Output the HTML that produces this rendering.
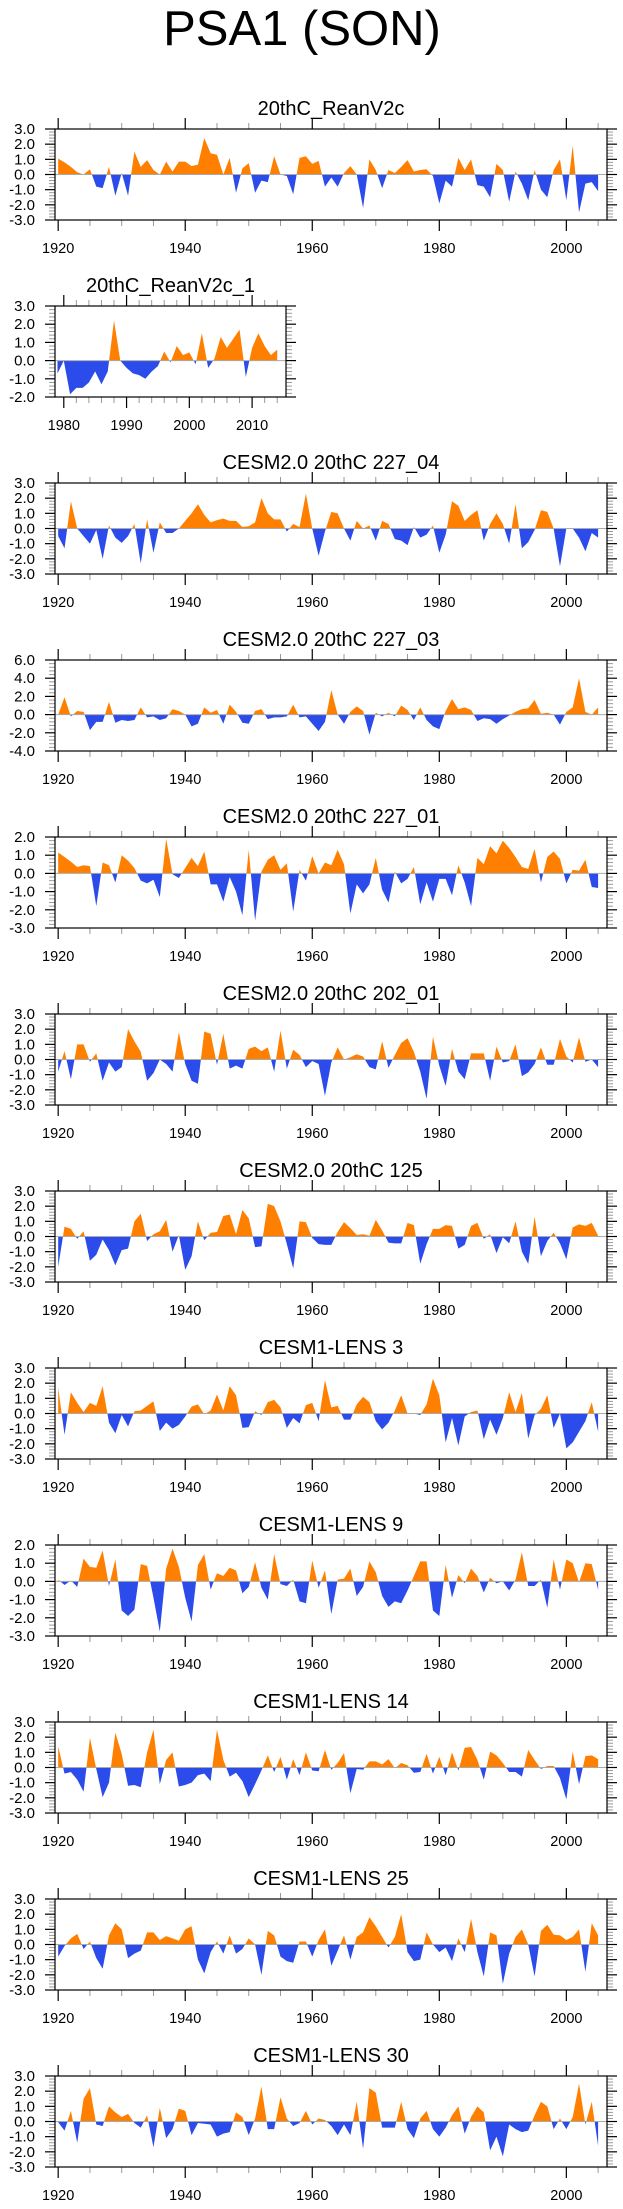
<!DOCTYPE html>
<html><head><meta charset="utf-8"><style>
html,body{margin:0;padding:0;background:#fff;}
svg{display:block;font-family:"Liberation Sans",sans-serif;}
</style></head><body>
<svg id="chart" width="623" height="2209" viewBox="0 0 623 2209">
<text x="302" y="45" font-size="49" text-anchor="middle">PSA1 (SON)</text>
</svg>
<script>
const titles=["20thC_ReanV2c","20thC_ReanV2c_1","CESM2.0 20thC 227_04","CESM2.0 20thC 227_03","CESM2.0 20thC 227_01","CESM2.0 20thC 202_01","CESM2.0 20thC 125","CESM1-LENS 3","CESM1-LENS 9","CESM1-LENS 14","CESM1-LENS 25","CESM1-LENS 30"];
const startYears=[1920,1979,1920,1920,1920,1920,1920,1920,1920,1920,1920,1920];
const yMin=[-3,-2,-3,-4,-3,-3,-3,-3,-3,-3,-3,-3];
const yMax=[3,3,3,6,2,3,3,3,2,3,3,3];
const yStep=[1,1,1,2,1,1,1,1,1,1,1,1];
const s1=[1.05,0.8,0.5,0.15,0.0,0.35,-0.8,-0.9,0.5,-1.4,
0.1,-1.4,1.5,0.5,0.95,0.3,0.0,0.85,0.2,0.85,
0.85,0.55,0.65,2.4,1.4,1.3,0.0,1.1,-1.2,0.4,
0.75,-1.2,-0.4,-0.5,1.2,0.0,-0.1,-1.3,1.1,1.2,
0.7,0.9,-0.8,-0.2,-0.8,0.1,0.55,0.0,-2.2,1.0,
0.3,-0.9,0.3,0.1,0.5,0.95,0.2,0.3,0.35,-0.1,
-1.9,-0.4,-0.8,1.1,0.3,1.0,-0.7,-0.8,-1.5,0.7,
0.3,-1.8,0.2,-0.6,-1.7,0.3,-1.0,-1.5,0.3,1.0,
-1.7,1.9,-2.5,-0.6,-0.5,-1.1];
const s2=[-0.7,0.0,-1.85,-1.5,-1.5,-1.2,-0.6,-1.3,-0.6,2.2,
0.0,-0.4,-0.7,-0.8,-1.0,-0.6,-0.3,0.5,-0.1,0.8,
0.3,0.45,-0.2,1.5,-0.4,0.1,1.3,0.7,1.2,1.7,
-0.9,0.7,1.5,0.8,0.3,0.6];
const s3=[-0.5,-1.3,1.8,0.0,-0.5,-1.0,-0.1,-2.0,0.2,-0.6,
-0.95,-0.5,0.3,-2.3,0.6,-1.6,0.4,-0.3,-0.3,0.0,
0.5,1.0,1.6,0.9,0.4,0.55,0.65,0.5,0.5,0.1,
0.15,0.4,2.0,1.0,0.6,0.6,-0.2,0.3,0.1,2.3,
0.0,-1.8,-0.2,1.1,1.0,0.0,-0.8,0.5,0.0,0.2,
-0.8,0.5,0.3,-0.7,-0.8,-1.1,0.1,-0.6,-0.4,0.2,
-1.6,-0.4,1.8,1.5,0.5,0.9,1.2,-0.8,0.3,1.0,
0.3,-1.0,1.6,-1.3,-0.9,-0.1,1.2,1.1,0.0,-2.5,
0.0,0.0,-0.6,-1.5,-0.3,-0.6];
const s4=[0.0,1.9,-0.2,0.4,0.3,-1.7,-0.8,-0.8,1.4,-0.9,
-0.6,-0.7,-0.6,0.8,-0.3,-0.2,-0.6,-0.4,0.6,0.4,
0.0,-1.3,-1.0,0.8,0.2,0.5,-1.0,1.1,0.3,-0.9,
-1.0,0.4,0.6,-0.5,-0.3,-0.3,-0.2,1.1,-0.3,-0.2,
-1.0,-1.8,-0.8,2.7,0.0,-1.0,0.3,0.9,0.4,-2.2,
0.2,-0.2,0.2,-0.2,1.0,0.5,-0.6,0.8,-0.6,-1.3,
-1.6,0.4,1.7,0.6,0.8,0.5,-0.7,-0.4,-0.5,-1.0,
-0.5,-0.1,0.3,0.6,0.7,1.6,0.1,0.2,0.0,-1.1,
0.3,0.8,4.0,0.3,0.0,0.8];
const s5=[1.15,0.9,0.65,0.35,0.45,0.4,-1.8,0.6,0.45,-0.5,
1.0,0.7,0.3,-0.4,-0.55,-0.35,-1.3,1.9,-0.05,-0.25,
0.3,0.85,0.4,1.2,-0.6,-0.6,-1.55,-0.2,-1.0,-2.3,
1.3,-2.6,0.1,0.75,1.0,0.2,0.55,-2.1,0.2,-0.4,
0.95,0.0,0.6,0.45,1.3,0.5,-2.2,-0.6,-1.1,-0.6,
0.85,-0.9,-1.6,0.1,-0.55,-0.3,0.35,-1.7,-0.5,-1.55,
-0.3,-0.3,-1.2,0.45,-0.5,-1.8,0.85,0.5,1.5,1.1,
1.8,1.4,0.9,0.35,0.25,1.35,-0.5,0.9,1.2,0.8,
-0.55,0.2,0.15,0.75,-0.75,-0.8];
const s6=[-0.8,0.55,-1.3,1.0,1.0,-0.15,0.4,-1.4,-0.2,-0.8,
-0.5,2.0,1.2,0.5,-1.4,-0.9,0.0,-0.3,-0.8,1.8,
-0.3,-1.4,-1.6,1.85,1.7,-0.35,1.7,-0.6,-0.4,-0.6,
0.7,0.85,0.55,0.8,-0.8,1.9,-0.6,0.65,0.3,-0.5,
-0.1,-0.3,-2.4,-0.2,0.8,0.0,0.15,0.35,0.2,-0.5,
-0.65,1.2,-0.55,0.3,1.1,1.4,0.5,-0.8,-2.6,1.5,
-0.4,-1.75,0.7,-0.8,-1.3,0.4,0.4,0.4,-1.4,0.85,
-0.2,-0.1,1.0,-1.1,-0.85,-0.3,0.8,-0.35,-0.35,1.35,
0.2,-0.2,1.45,-0.15,0.0,-0.5];
const s7=[-2.0,0.65,0.5,-0.15,0.35,-1.6,-1.2,-0.2,-0.9,-1.9,
-0.9,-0.8,1.0,1.5,-0.3,0.15,0.35,1.1,-1.0,0.1,
-2.2,-1.3,1.0,-0.25,0.25,0.3,1.35,1.45,0.15,1.75,
1.2,-0.7,-0.65,2.15,2.0,1.0,-0.5,-2.1,1.0,0.95,
-0.1,-0.5,-0.55,-0.55,0.3,0.95,0.55,0.1,0.15,0.05,
1.1,0.4,-0.4,-0.45,-0.45,0.9,0.75,-1.8,-0.5,0.5,
0.5,0.75,0.7,-0.8,-0.55,0.7,0.9,-0.15,0.15,-1.1,
-0.05,-0.45,1.0,-1.0,-1.8,1.3,-1.3,-0.3,0.25,-0.45,
-1.5,0.6,0.8,0.7,0.9,0.05];
const s8=[1.7,-1.4,1.4,0.7,0.1,0.7,0.5,1.8,-0.6,-1.3,
-0.1,-0.85,0.15,0.2,0.5,0.8,-1.15,-0.6,-1.0,-0.75,
-0.2,0.45,0.6,-0.05,0.2,1.25,0.2,1.8,1.2,-0.95,
-0.9,0.15,-0.1,0.75,0.9,0.4,-0.95,-0.3,-0.65,0.55,
0.7,-0.5,2.2,0.4,0.5,-0.4,-0.4,0.6,1.1,0.75,
-0.5,-1.05,-0.6,0.2,1.2,0.0,0.0,-0.1,0.6,2.3,
1.2,-1.9,-0.3,-2.1,-0.2,0.1,0.2,-1.7,-0.4,-1.4,
-0.3,1.4,0.1,1.35,-1.65,-0.1,0.3,1.2,-0.95,0.0,
-2.3,-1.9,-1.2,-0.5,0.75,-1.2];
const s9=[0.1,-0.2,0.05,-0.3,1.25,0.8,0.75,1.7,-0.25,1.2,
-1.6,-1.9,-1.55,0.95,0.85,-0.9,-2.75,0.7,1.8,0.8,
-0.9,-2.2,0.9,1.5,-0.45,0.45,0.3,0.75,0.6,-0.65,
-0.3,1.05,-0.35,-1.0,1.5,-0.15,-0.25,0.1,-1.1,-1.2,
1.15,-0.35,0.6,-1.8,0.1,0.15,0.7,-0.8,-0.3,1.1,
0.5,-0.8,-1.4,-1.1,-1.2,-0.5,0.3,1.1,1.1,-1.6,
-1.9,0.9,-0.9,0.35,-0.1,0.7,0.3,-0.6,0.2,-0.1,
0.0,-0.5,0.1,1.6,-0.25,-0.25,0.1,-1.45,1.2,-0.45,
1.2,1.0,-0.05,1.0,0.95,-0.45];
const s10=[1.4,-0.4,-0.3,-0.8,-1.6,1.95,-0.1,-1.95,-1.0,2.3,
0.9,-1.2,-1.15,-1.3,1.0,2.5,-1.1,0.5,1.0,-1.25,
-1.15,-1.0,-0.5,-0.4,-0.9,2.5,0.5,-0.6,-0.35,-0.9,
-1.95,-1.1,-0.2,0.8,-0.3,0.7,-0.8,0.55,-0.5,1.0,
-0.2,-0.25,1.15,-0.15,0.3,0.95,-1.7,-0.1,-0.15,0.4,
0.4,0.2,0.55,-0.05,0.3,0.15,-0.35,-0.3,0.9,-0.4,
0.7,-0.5,1.0,-0.2,1.3,1.35,0.5,-0.8,1.05,0.8,
0.3,-0.3,-0.3,-0.6,1.15,0.5,-0.1,0.1,0.1,-0.7,
-2.1,1.05,-1.1,0.75,0.8,0.55];
const s11=[-0.8,-0.1,0.4,0.7,-0.3,0.2,-0.9,-1.6,0.6,1.4,
1.0,-0.9,-0.6,-0.4,0.8,0.8,0.3,0.55,0.4,0.25,
1.0,1.2,-1.0,-1.9,-0.5,0.2,-0.6,0.6,-0.6,-0.3,
0.4,0.0,-2.0,0.9,0.6,-0.8,-1.1,-1.2,0.2,0.2,
-0.8,0.3,1.0,-1.4,-0.4,0.6,-1.0,0.5,0.8,1.8,
1.2,0.5,-0.2,0.5,2.0,-0.5,-1.1,-1.0,0.8,0.0,
-0.5,-0.2,-1.1,0.4,-0.5,1.7,-0.5,-2.1,0.8,0.6,
-2.6,-0.6,0.5,1.0,0.0,-2.1,0.9,1.3,0.65,0.6,
0.3,0.5,1.0,-1.8,1.4,0.6];
const s12=[-0.05,-0.6,0.7,-1.4,1.5,2.2,-0.2,-0.3,1.0,0.6,
0.3,0.5,-0.1,-0.4,0.4,-1.7,0.9,-1.1,-0.5,0.85,
0.7,-0.9,-0.1,-0.15,-0.2,-1.0,-0.8,-0.7,0.6,0.3,
-0.9,0.2,2.3,-0.5,-0.5,1.6,0.2,-0.3,-0.1,0.7,
-0.2,0.2,0.1,-0.3,-0.9,-0.2,-0.9,1.3,-1.8,2.2,
1.9,-0.4,-0.4,-0.4,1.3,-0.5,-1.1,0.2,0.7,-0.5,
-1.0,-0.4,0.4,1.0,-0.8,0.3,1.0,0.6,-1.9,-1.0,
-2.3,-0.2,-0.5,-0.7,-0.6,0.4,1.3,1.0,-0.5,0.2,
-0.5,0.3,2.5,-0.2,1.3,-1.6];
const series=[s1,s2,s3,s4,s5,s6,s7,s8,s9,s10,s11,s12];

const NS="http://www.w3.org/2000/svg";
const svg=document.getElementById('chart');
function mk(tag,attrs,parent){const e=document.createElementNS(NS,tag);for(const k in attrs)e.setAttribute(k,attrs[k]);parent.appendChild(e);return e;}

series.forEach(function(vals,k){
  const top=129+177*k, h=91, bot=top+h, left=55;
  const right = (k===1)?286:607;
  const x0 = (k===1)?1978.6:1919.5, x1=(k===1)?2015.4:2006.4;
  const lo=yMin[k], hi=yMax[k];
  const xs=function(yr){return left+(yr-x0)/(x1-x0)*(right-left);};
  const ys=function(v){return bot-(v-lo)/(hi-lo)*h;};
  const g=mk('g',{},svg);
  
  
  const t=mk('text',{x:(left+right)/2,y:top-14,'font-size':20,'text-anchor':'middle'},g);
  t.textContent=titles[k];
  
  
  const cid='clip'+k;
  const defs=mk('defs',{},g);
  const z=ys(0);
  const cpUp=mk('clipPath',{id:cid+'u'},defs);
  mk('rect',{x:left,y:top,width:right-left,height:z-top},cpUp);
  const cpDn=mk('clipPath',{id:cid+'d'},defs);
  mk('rect',{x:left,y:z,width:right-left,height:bot-z},cpDn);
  let pts=[];
  vals.forEach(function(v,i){pts.push(xs(startYears[k]+i).toFixed(2)+','+ys(v).toFixed(2));});
  const xa=xs(startYears[k]), xb=xs(startYears[k]+vals.length-1);
  const poly=pts.join(' ')+' '+xb.toFixed(2)+','+z.toFixed(2)+' '+xa.toFixed(2)+','+z.toFixed(2);
  const pu=mk('polygon',{points:poly,fill:'#ff8000','clip-path':'url(#'+cid+'u)'},g);
  
  
  const pd=mk('polygon',{points:poly,fill:'#2b4bea','clip-path':'url(#'+cid+'d)'},g);
  
  
  const zl=mk('line',{x1:left,x2:right,y1:z,y2:z,stroke:'#aaa','stroke-width':1},g);
  
  
  // y ticks
  const ms=yStep[k]/5;
  for(let v=lo; v<=hi+1e-6; v+=ms){
    const y=ys(v);
    const major=Math.abs(Math.round(v/yStep[k])*yStep[k]-v)<1e-6;
    if(!major){
      mk('line',{x1:left-6,x2:left,y1:y,y2:y,stroke:'#999','stroke-width':1},g);
      mk('line',{x1:right,x2:right+6,y1:y,y2:y,stroke:'#999','stroke-width':1},g);
    }
  }
  for(let v=lo; v<=hi+1e-6; v+=yStep[k]){
    const y=ys(v);
    mk('line',{x1:left-10,x2:left,y1:y,y2:y,stroke:'#000','stroke-width':1.2},g);
    mk('line',{x1:right,x2:right+10,y1:y,y2:y,stroke:'#000','stroke-width':1.2},g);
    const lb=mk('text',{x:35,y:y+5,'font-size':15,'text-anchor':'end'},g);
    lb.textContent=v.toFixed(1);
    
    
  }
  // x ticks
  const majStep=(k===1)?10:20, minStep=(k===1)?2:5;
  const ya=Math.ceil(x0), yb=Math.floor(x1);
  for(let yr=ya; yr<=yb; yr++){
    if(yr%minStep!==0 && yr%majStep!==0) continue;
    const x=xs(yr);
    if(yr%majStep===0){
      mk('line',{x1:x,x2:x,y1:bot,y2:bot+11,stroke:'#000','stroke-width':1.2},g);
      mk('line',{x1:x,x2:x,y1:top-11,y2:top,stroke:'#000','stroke-width':1.2},g);
      const lb=mk('text',{x:x,y:bot+33,'font-size':14.5,'text-anchor':'middle'},g);
      lb.textContent=String(yr);
      
      
    } else {
      mk('line',{x1:x,x2:x,y1:bot,y2:bot+6,stroke:'#999','stroke-width':1},g);
      mk('line',{x1:x,x2:x,y1:top-6,y2:top,stroke:'#999','stroke-width':1},g);
    }
  }
  const box=mk('rect',{x:left,y:top,width:right-left,height:h,fill:'none',stroke:'#000','stroke-width':1.2},g);
  
  
});
</script>
</body></html>
